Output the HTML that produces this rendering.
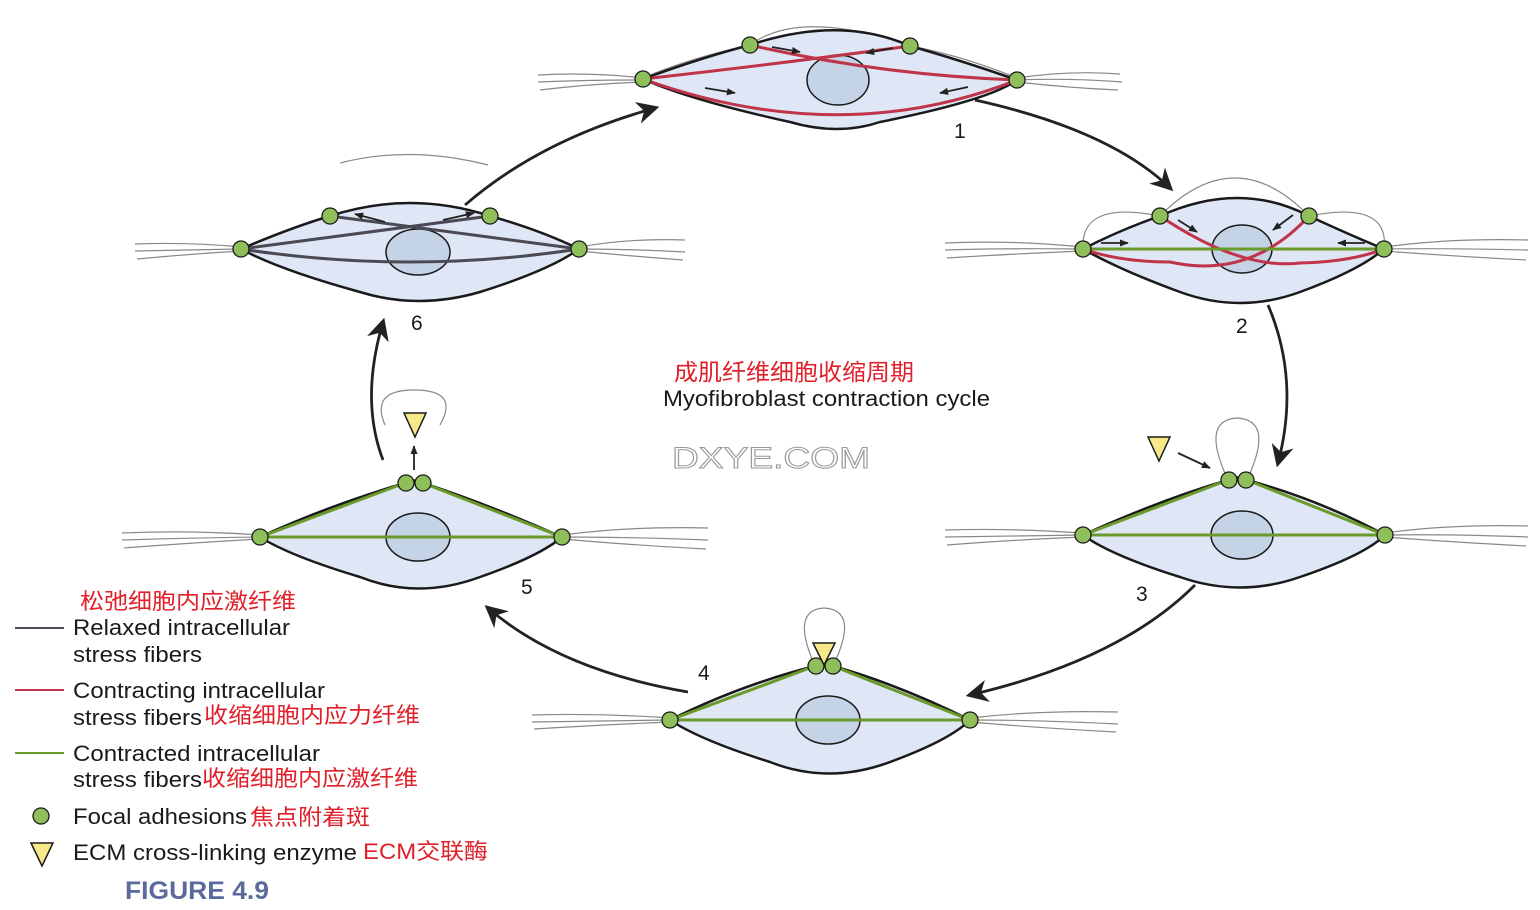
<!DOCTYPE html>
<html><head><meta charset="utf-8"><style>
html,body{margin:0;padding:0;background:#fff;}
svg{display:block;}
text{font-family:"Liberation Sans","Noto Sans CJK SC",sans-serif;}
</style></head><body>
<svg width="1540" height="910" viewBox="0 0 1540 910" xmlns="http://www.w3.org/2000/svg">
<defs>
<marker id="ah" viewBox="0 0 10 10" refX="8" refY="5" markerWidth="8" markerHeight="8" orient="auto"><path d="M0,0 L10,5 L0,10 L3,5 z" fill="#222"/></marker>
<marker id="sa" viewBox="0 0 10 10" refX="9" refY="5" markerWidth="5" markerHeight="5" orient="auto"><path d="M0,1 L10,5 L0,9 z" fill="#222"/></marker>
</defs>
<g fill="none" stroke="#222" stroke-width="2.8">
<path d="M465,205 Q540,140 655,108" marker-end="url(#ah)"/>
<path d="M975,100 Q1110,130 1170,188" marker-end="url(#ah)"/>
<path d="M1268,305 Q1300,380 1278,463" marker-end="url(#ah)"/>
<path d="M1195,585 Q1120,660 970,695" marker-end="url(#ah)"/>
<path d="M688,692 Q560,670 488,608" marker-end="url(#ah)"/>
<path d="M383,460 Q360,400 383,322" marker-end="url(#ah)"/>
</g>
<g fill="none" stroke="#888" stroke-width="1.2">
<path d="M538,75 Q590,72 643,78 M538,82 Q590,80 643,80 M540,90 Q590,84 643,82"/>
<path d="M1017,78 Q1070,70 1120,74 M1017,80 Q1070,78 1122,82 M1017,82 Q1070,88 1118,90"/>
<path d="M945,243 Q1010,240 1083,247 M945,250 Q1010,248 1083,249 M947,258 Q1010,254 1083,251"/>
<path d="M1384,247 Q1450,238 1528,240 M1384,249 Q1450,248 1528,250 M1384,251 Q1450,256 1526,260"/>
<path d="M945,530 Q1010,528 1083,533 M945,537 Q1010,536 1083,535 M947,545 Q1010,540 1083,537"/>
<path d="M1385,533 Q1450,524 1528,526 M1385,535 Q1450,534 1528,537 M1385,537 Q1450,542 1526,546"/>
<path d="M532,715 Q600,713 670,718 M532,722 Q600,721 670,720 M534,729 Q600,725 670,722"/>
<path d="M970,718 Q1040,710 1118,712 M970,720 Q1040,720 1118,724 M970,722 Q1040,728 1116,732"/>
<path d="M122,533 Q190,530 260,535 M122,540 Q190,538 260,537 M124,548 Q190,543 260,539"/>
<path d="M562,535 Q630,526 708,528 M562,537 Q630,537 708,540 M562,539 Q630,545 706,549"/>
<path d="M135,244 Q190,242 241,247 M135,251 Q190,250 241,249 M137,259 Q190,254 241,251"/>
<path d="M579,247 Q630,238 685,240 M579,249 Q630,249 685,252 M579,251 Q630,256 683,260"/>
<path d="M643,78 Q690,58 750,45 Q800,8 910,46 Q960,55 1017,78"/>
<path d="M1083,249 Q1080,200 1160,216 Q1235,140 1309,216 Q1390,200 1384,249"/>
<path d="M1228,480 Q1200,420 1237,418 Q1275,420 1247,480"/>
<path d="M815,666 Q790,610 824,608 Q860,610 833,666"/>
<path d="M385,425 Q370,390 414,390 Q460,390 440,425"/>
<path d="M340,163 Q410,145 488,165"/>
</g>
<g fill="#dfe6f5" stroke="#1a1a1a" stroke-width="2.5">
<path d="M643,79 Q700,58 750,45 Q840,15 910,46 Q960,60 1017,80 Q990,100 880,122 Q838,136 790,122 Q690,100 643,79z"/>
<path d="M1083,249 Q1120,230 1160,216 Q1240,180 1309,216 Q1350,235 1384,249 Q1360,270 1300,292 Q1240,314 1180,292 Q1120,270 1083,249z"/>
<path d="M1083,535 Q1160,500 1228,480 Q1237,475 1247,480 Q1320,500 1385,535 Q1365,555 1300,577 Q1240,598 1180,577 Q1110,555 1083,535z"/>
<path d="M670,720 Q740,685 815,666 Q824,661 833,666 Q900,685 970,720 Q950,740 890,762 Q828,785 770,762 Q700,740 670,720z"/>
<path d="M260,537 Q330,505 405,483 Q414,478 423,483 Q490,505 562,537 Q540,556 480,577 Q418,600 360,577 Q290,556 260,537z"/>
<path d="M241,249 Q290,228 330,216 Q410,190 490,216 Q540,230 579,249 Q550,270 480,292 Q418,310 360,292 Q280,270 241,249z"/>
</g>
<g fill="#c5d3e6" stroke="#1a1a1a" stroke-width="1.5">
<ellipse cx="838" cy="80" rx="31" ry="25"/>
<ellipse cx="1242" cy="249" rx="30" ry="24"/>
<ellipse cx="1242" cy="535" rx="31" ry="24"/>
<ellipse cx="828" cy="720" rx="32" ry="24"/>
<ellipse cx="418" cy="537" rx="32" ry="24"/>
<ellipse cx="418" cy="252" rx="32" ry="23"/>
</g>
<g fill="none" stroke="#c0344a" stroke-width="3">
<path d="M750,45 Q880,75 1017,80 M910,46 Q770,65 643,79 M643,79 Q840,150 1017,80"/>
<path d="M1160,216 Q1240,270 1300,263 Q1350,262 1384,249 M1309,216 Q1250,280 1170,262 Q1120,262 1083,249"/>
</g>
<g fill="none" stroke="#6a9a2a" stroke-width="3">
<path d="M1083,249 L1384,249"/>
<path d="M1083,535 L1385,535 M1083,535 L1228,480 M1247,480 L1385,535"/>
<path d="M670,720 L970,720 M670,720 L815,666 M833,666 L970,720"/>
<path d="M260,537 L562,537 M260,537 L405,483 M423,483 L562,537"/>
</g>
<g fill="none" stroke="#4a4a55" stroke-width="3">
<path d="M330,216 L579,249 M490,216 L241,249 M241,249 Q410,275 579,249"/>
</g>
<g stroke="#222" stroke-width="1.8" marker-end="url(#sa)">
<line x1="772" y1="47" x2="800" y2="52"/>
<line x1="893" y1="48" x2="866" y2="53"/>
<line x1="705" y1="88" x2="735" y2="93"/>
<line x1="968" y1="87" x2="940" y2="93"/>
<line x1="1178" y1="220" x2="1197" y2="232"/>
<line x1="1293" y1="215" x2="1273" y2="230"/>
<line x1="1101" y1="243" x2="1128" y2="243"/>
<line x1="1365" y1="243" x2="1338" y2="243"/>
<line x1="385" y1="222" x2="355" y2="214"/>
<line x1="443" y1="220" x2="474" y2="213"/>
<line x1="1178" y1="453" x2="1210" y2="468"/>
<line x1="414" y1="470" x2="414" y2="446"/>
</g>
<g fill="#8fbf5a" stroke="#1a1a1a" stroke-width="1.3">
<circle cx="643" cy="79" r="8"/><circle cx="1017" cy="80" r="8"/><circle cx="750" cy="45" r="8"/><circle cx="910" cy="46" r="8"/>
<circle cx="1083" cy="249" r="8"/><circle cx="1384" cy="249" r="8"/><circle cx="1160" cy="216" r="8"/><circle cx="1309" cy="216" r="8"/>
<circle cx="1083" cy="535" r="8"/><circle cx="1385" cy="535" r="8"/><circle cx="1229" cy="480" r="8"/><circle cx="1246" cy="480" r="8"/>
<circle cx="670" cy="720" r="8"/><circle cx="970" cy="720" r="8"/><circle cx="816" cy="666" r="8"/><circle cx="833" cy="666" r="8"/>
<circle cx="260" cy="537" r="8"/><circle cx="562" cy="537" r="8"/><circle cx="406" cy="483" r="8"/><circle cx="423" cy="483" r="8"/>
<circle cx="241" cy="249" r="8"/><circle cx="579" cy="249" r="8"/><circle cx="330" cy="216" r="8"/><circle cx="490" cy="216" r="8"/>
<circle cx="41" cy="816" r="8"/>
</g>
<g fill="#f7e98a" stroke="#1a1a1a" stroke-width="1.5">
<path d="M1148,437 L1170,437 L1159,461z"/>
<path d="M404,413 L426,413 L415,437z"/>
<path d="M813,643 L835,643 L824,665z"/>
<path d="M31,843 L53,843 L42,866z"/>
</g>
<g font-size="21" fill="#1a1a1a">
<text x="954" y="138">1</text><text x="1236" y="333">2</text><text x="1136" y="601">3</text>
<text x="698" y="680">4</text><text x="521" y="594">5</text><text x="411" y="330">6</text>
</g>
<text x="674" y="380" font-size="23" fill="#e0202a" textLength="240" lengthAdjust="spacingAndGlyphs">成肌纤维细胞收缩周期</text>
<text x="663" y="406" font-size="22" fill="#1a1a1a" textLength="327" lengthAdjust="spacingAndGlyphs">Myofibroblast contraction cycle</text>
<text x="672" y="468" font-size="30" fill="#fff" stroke="#999" stroke-width="1" font-family="Liberation Serif,serif" textLength="198" lengthAdjust="spacingAndGlyphs">DXYE.COM</text>
<g stroke-width="2"><line x1="15" y1="628" x2="64" y2="628" stroke="#4a4a55"/><line x1="15" y1="690" x2="64" y2="690" stroke="#c0344a"/><line x1="15" y1="753" x2="64" y2="753" stroke="#6a9a2a"/></g>
<g font-size="22" fill="#1a1a1a" lengthAdjust="spacingAndGlyphs">
<text x="80" y="609" fill="#e0202a" textLength="216" lengthAdjust="spacingAndGlyphs">松弛细胞内应激纤维</text>
<text x="73" y="635" textLength="217" lengthAdjust="spacingAndGlyphs">Relaxed intracellular</text>
<text x="73" y="662" textLength="129" lengthAdjust="spacingAndGlyphs">stress fibers</text>
<text x="73" y="698" textLength="252" lengthAdjust="spacingAndGlyphs">Contracting intracellular</text>
<text x="73" y="725" textLength="129" lengthAdjust="spacingAndGlyphs">stress fibers</text>
<text x="204" y="723" fill="#e0202a" textLength="216" lengthAdjust="spacingAndGlyphs">收缩细胞内应力纤维</text>
<text x="73" y="761" textLength="247" lengthAdjust="spacingAndGlyphs">Contracted intracellular</text>
<text x="73" y="787" textLength="129" lengthAdjust="spacingAndGlyphs">stress fibers</text>
<text x="202" y="786" fill="#e0202a" textLength="216" lengthAdjust="spacingAndGlyphs">收缩细胞内应激纤维</text>
<text x="73" y="824" textLength="174" lengthAdjust="spacingAndGlyphs">Focal adhesions</text>
<text x="250" y="825" fill="#e0202a" textLength="120" lengthAdjust="spacingAndGlyphs">焦点附着斑</text>
<text x="73" y="860" textLength="284" lengthAdjust="spacingAndGlyphs">ECM cross-linking enzyme</text>
<text x="363" y="859" fill="#e0202a" textLength="125" lengthAdjust="spacingAndGlyphs">ECM交联酶</text>
</g>
<text x="125" y="899" font-size="25" font-weight="bold" fill="#5a6a9a" textLength="144" lengthAdjust="spacingAndGlyphs">FIGURE 4.9</text>
</svg>
</body></html>
